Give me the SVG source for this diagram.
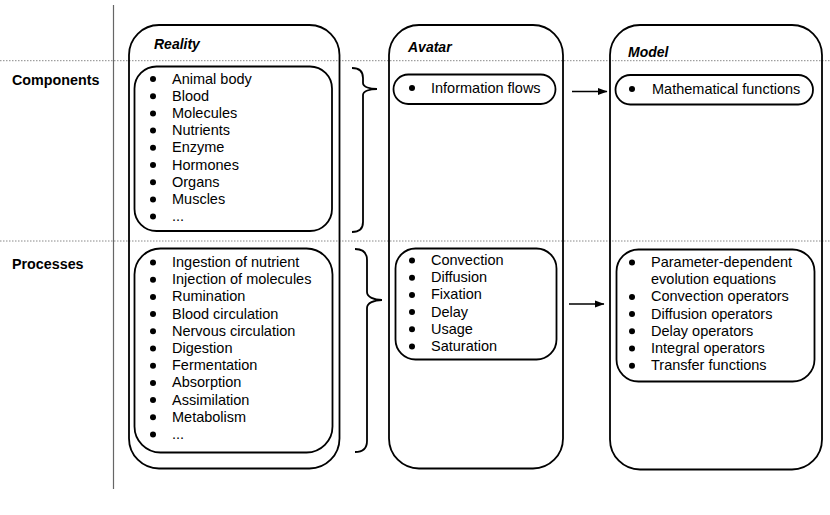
<svg xmlns="http://www.w3.org/2000/svg" width="830" height="515" viewBox="0 0 830 515">
<defs>
<style>
.box{fill:none;stroke:#000;stroke-width:1.8}
.grid{stroke:#888;stroke-width:1;stroke-dasharray:1.5 1.5;fill:none}
.vline{stroke:#666;stroke-width:1.2}
.t{font-family:"Liberation Sans",Arial,sans-serif;font-size:14.5px;fill:#000}
.title{font-family:"Liberation Sans",Arial,sans-serif;font-size:14px;font-weight:bold;font-style:italic;fill:#000}
.lab{font-family:"Liberation Sans",Arial,sans-serif;font-size:14.3px;font-weight:bold;fill:#000}
.brace{fill:none;stroke:#000;stroke-width:1.8}
.conn{stroke:#000;stroke-width:1.5;fill:none}
.dot{fill:#000}
</style>
<marker id="arr" markerWidth="10" markerHeight="8" refX="9" refY="4" orient="auto" markerUnits="userSpaceOnUse">
<path d="M0,0.5 L9.5,4 L0,7.5 Z" fill="#000"/>
</marker>
</defs>
<rect width="830" height="515" fill="#fff"/>

<g id="grid">
<line class="grid" x1="0" y1="60.7" x2="830" y2="60.7"/>
<line class="grid" x1="0" y1="241" x2="830" y2="241"/>
<line class="vline" x1="113.5" y1="5" x2="113.5" y2="489"/>
</g>

<g id="row-labels">
<text class="lab" x="12" y="84.5">Components</text>
<text class="lab" x="12" y="269">Processes</text>
</g>

<g id="reality">
<rect class="box" x="129" y="25" width="210.5" height="443.5" rx="30" ry="30"/>
<text class="title" x="154" y="49">Reality</text>
</g>

<g id="reality-components">
<rect class="box" x="134.5" y="66.5" width="197.5" height="164.5" rx="22" ry="22"/>
<g class="dot">
<circle cx="153" cy="79" r="3"/><circle cx="153" cy="96.2" r="3"/><circle cx="153" cy="113.4" r="3"/>
<circle cx="153" cy="130.6" r="3"/><circle cx="153" cy="147.8" r="3"/><circle cx="153" cy="165" r="3"/>
<circle cx="153" cy="182.2" r="3"/><circle cx="153" cy="199.4" r="3"/><circle cx="153" cy="216.6" r="3"/>
</g>
<text class="t" x="172" y="83.5">Animal body</text>
<text class="t" x="172" y="100.7">Blood</text>
<text class="t" x="172" y="117.9">Molecules</text>
<text class="t" x="172" y="135.1">Nutrients</text>
<text class="t" x="172" y="152.3">Enzyme</text>
<text class="t" x="172" y="169.5">Hormones</text>
<text class="t" x="172" y="186.7">Organs</text>
<text class="t" x="172" y="203.9">Muscles</text>
<text class="t" x="172" y="221.1">...</text>
</g>

<g id="reality-processes">
<rect class="box" x="134.5" y="248.5" width="198" height="204" rx="26" ry="26"/>
<g class="dot">
<circle cx="153" cy="262.5" r="3"/><circle cx="153" cy="279.7" r="3"/><circle cx="153" cy="296.9" r="3"/>
<circle cx="153" cy="314.1" r="3"/><circle cx="153" cy="331.3" r="3"/><circle cx="153" cy="348.5" r="3"/>
<circle cx="153" cy="365.7" r="3"/><circle cx="153" cy="382.9" r="3"/><circle cx="153" cy="400.1" r="3"/>
<circle cx="153" cy="417.3" r="3"/><circle cx="153" cy="434.5" r="3"/>
</g>
<text class="t" x="172" y="267">Ingestion of nutrient</text>
<text class="t" x="172" y="284.2">Injection of molecules</text>
<text class="t" x="172" y="301.4">Rumination</text>
<text class="t" x="172" y="318.6">Blood circulation</text>
<text class="t" x="172" y="335.8">Nervous circulation</text>
<text class="t" x="172" y="353">Digestion</text>
<text class="t" x="172" y="370.2">Fermentation</text>
<text class="t" x="172" y="387.4">Absorption</text>
<text class="t" x="172" y="404.6">Assimilation</text>
<text class="t" x="172" y="421.8">Metabolism</text>
<text class="t" x="172" y="439">...</text>
</g>

<g id="avatar">
<rect class="box" x="389" y="25" width="174" height="443.5" rx="30" ry="30"/>
<text class="title" x="408" y="52">Avatar</text>
</g>

<g id="avatar-components">
<rect class="box" x="393.5" y="74.5" width="162" height="29.5" rx="14.75" ry="14.75"/>
<circle class="dot" cx="412" cy="88" r="3"/>
<text class="t" x="431" y="92.5">Information flows</text>
</g>

<g id="avatar-processes">
<rect class="box" x="395.5" y="248.5" width="161" height="111" rx="20" ry="20"/>
<g class="dot">
<circle cx="412" cy="260.5" r="3"/><circle cx="412" cy="277.7" r="3"/><circle cx="412" cy="294.9" r="3"/>
<circle cx="412" cy="312.1" r="3"/><circle cx="412" cy="329.3" r="3"/><circle cx="412" cy="346.5" r="3"/>
</g>
<text class="t" x="431" y="265">Convection</text>
<text class="t" x="431" y="282.2">Diffusion</text>
<text class="t" x="431" y="299.4">Fixation</text>
<text class="t" x="431" y="316.6">Delay</text>
<text class="t" x="431" y="333.8">Usage</text>
<text class="t" x="431" y="351">Saturation</text>
</g>

<g id="model">
<rect class="box" x="610" y="25" width="212" height="444.5" rx="30" ry="30"/>
<text class="title" x="628" y="57">Model</text>
</g>

<g id="model-components">
<rect class="box" x="615.5" y="75" width="197.5" height="29.5" rx="14.75" ry="14.75"/>
<circle class="dot" cx="632" cy="89" r="3"/>
<text class="t" x="652" y="93.5">Mathematical functions</text>
</g>

<g id="model-processes">
<rect class="box" x="616.5" y="249.5" width="198" height="132" rx="22" ry="22"/>
<g class="dot">
<circle cx="632" cy="262.5" r="3"/><circle cx="632" cy="296.9" r="3"/>
<circle cx="632" cy="314.1" r="3"/><circle cx="632" cy="331.3" r="3"/><circle cx="632" cy="348.5" r="3"/>
<circle cx="632" cy="365.7" r="3"/>
</g>
<text class="t" x="651" y="267">Parameter-dependent</text>
<text class="t" x="651" y="284.2">evolution equations</text>
<text class="t" x="651" y="301.4">Convection operators</text>
<text class="t" x="651" y="318.6">Diffusion operators</text>
<text class="t" x="651" y="335.8">Delay operators</text>
<text class="t" x="651" y="353">Integral operators</text>
<text class="t" x="651" y="370.2">Transfer functions</text>
</g>

<g id="connectors">
<path class="brace" d="M352,68 C360,68 363,72 363,78 L363,83 C363,87 370,89 377,89 C370,89 363,91 363,95 L363,222 C363,228 360,232 352,232"/>
<path class="brace" d="M355,249 C363,249 367,253 367,260 L367,292 C367,297 374,300 382,300 C374,300 367,303 367,308 L367,441 C367,448 363,452 355,452"/>
<line class="conn" x1="572" y1="91.5" x2="607" y2="91.5" marker-end="url(#arr)"/>
<line class="conn" x1="569" y1="304" x2="604" y2="304" marker-end="url(#arr)"/>
</g>
</svg>
